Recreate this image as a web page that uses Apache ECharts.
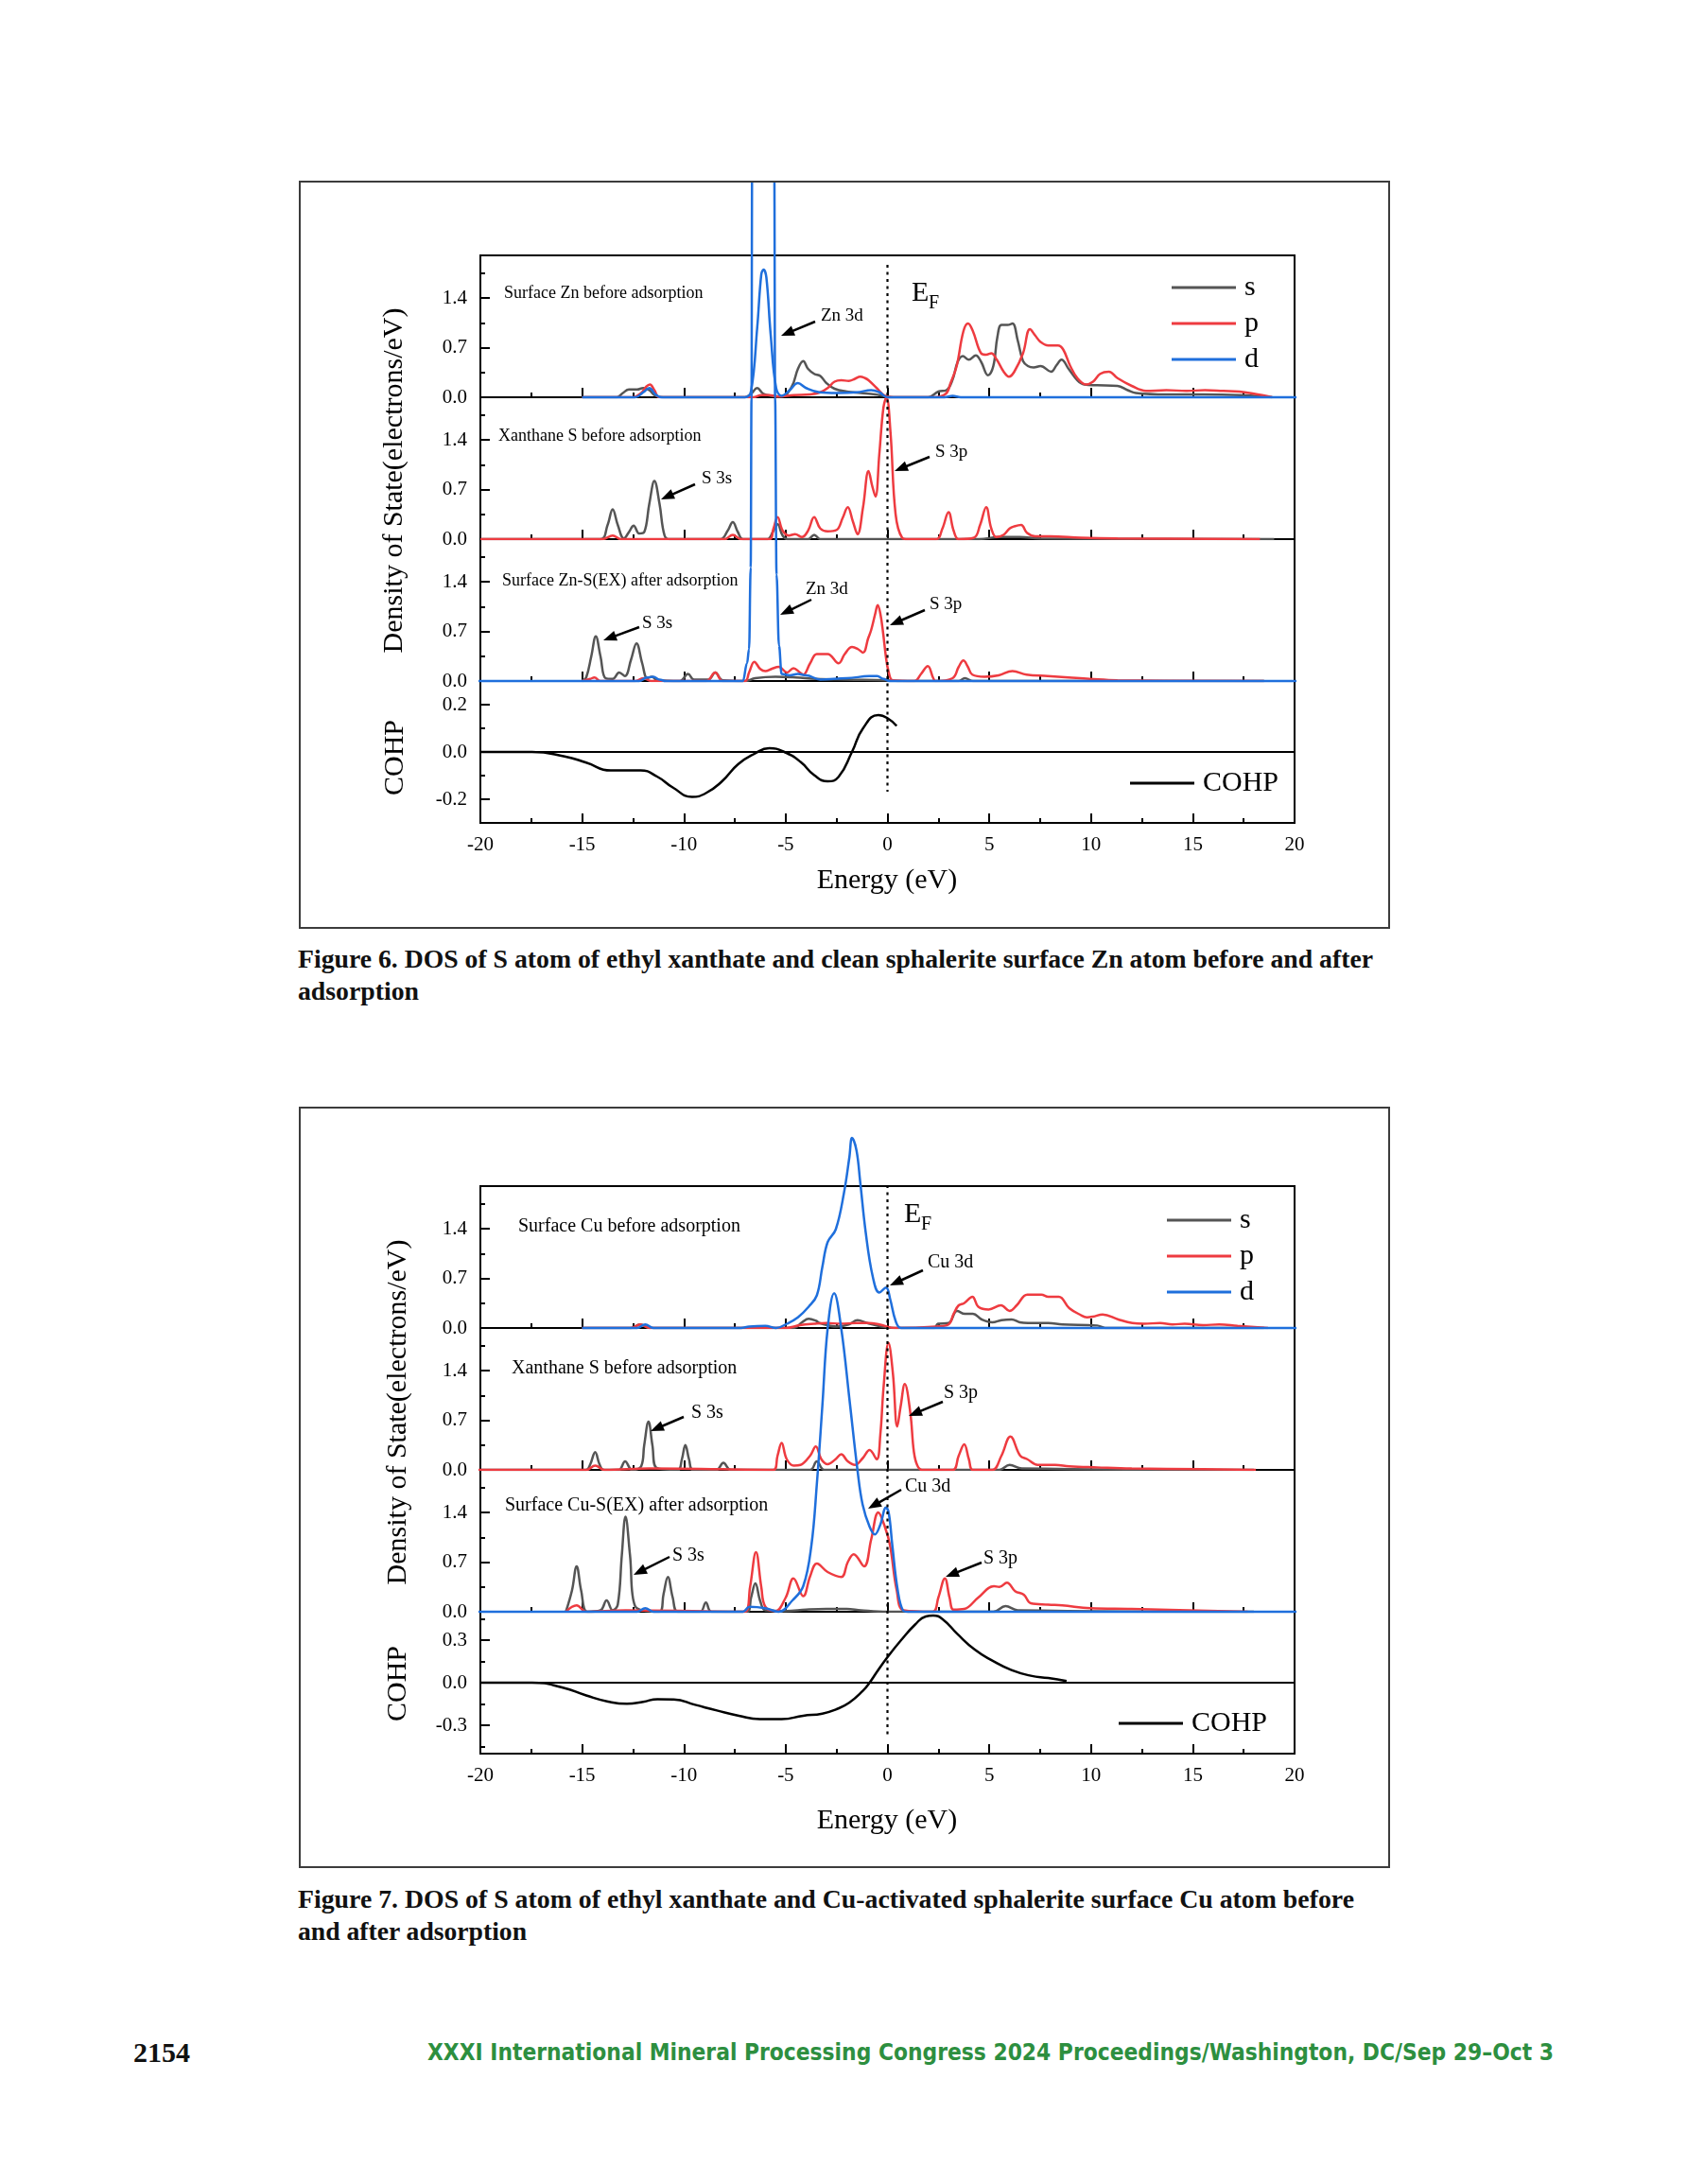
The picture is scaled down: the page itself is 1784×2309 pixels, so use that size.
<!DOCTYPE html>
<html><head><meta charset="utf-8">
<script src="https://cdn.jsdelivr.net/npm/echarts@6/dist/echarts.min.js"></script>
<style>
html,body{margin:0;padding:0;background:#fff;}
body{width:1784px;height:2309px;position:relative;overflow:hidden;}
.chart{position:absolute;}
.frame{position:absolute;box-sizing:border-box;border:2px solid #3c3c3c;pointer-events:none;}
svg.txt{position:absolute;left:0;overflow:visible;}
</style></head>
<body>
<div id="fig6" class="chart" style="left:317px;top:192px;width:1152px;height:789px"></div>
<div class="frame" style="left:316px;top:191px;width:1154px;height:791px"></div>
<div id="fig7" class="chart" style="left:317px;top:1171px;width:1152px;height:803px"></div>
<div class="frame" style="left:316px;top:1170px;width:1154px;height:805px"></div>

<svg class="txt" style="top:990px" width="1784" height="90">
<text x="315" y="33" font-family="Liberation Serif" font-weight="bold" font-size="27" fill="#111" textLength="1137" lengthAdjust="spacingAndGlyphs">Figure 6. DOS of S atom of ethyl xanthate and clean sphalerite surface Zn atom before and after</text>
<text x="315" y="67" font-family="Liberation Serif" font-weight="bold" font-size="27" fill="#111" textLength="128" lengthAdjust="spacingAndGlyphs">adsorption</text>
</svg>
<svg class="txt" style="top:1983px" width="1784" height="90">
<text x="315" y="34" font-family="Liberation Serif" font-weight="bold" font-size="27" fill="#111" textLength="1117" lengthAdjust="spacingAndGlyphs">Figure 7. DOS of S atom of ethyl xanthate and Cu-activated sphalerite surface Cu atom before</text>
<text x="315" y="68" font-family="Liberation Serif" font-weight="bold" font-size="27" fill="#111" textLength="242" lengthAdjust="spacingAndGlyphs">and after adsorption</text>
</svg>
<svg class="txt" style="top:2140px" width="1784" height="60">
<text x="141" y="40" font-family="Liberation Serif" font-weight="bold" font-size="29" fill="#111" textLength="60" lengthAdjust="spacingAndGlyphs">2154</text>
<text x="452" y="38" font-family="'Liberation Sans Narrow', 'DejaVu Sans Condensed', 'Liberation Sans', 'DejaVu Sans', sans-serif" font-weight="bold" font-size="25" fill="#2d8f3f" textLength="1191" lengthAdjust="spacingAndGlyphs">XXXI International Mineral Processing Congress 2024 Proceedings/Washington, DC/Sep 29–Oct 3</text>
</svg>

<script>
// ---------------- DATA (energy eV, value) ----------------
const DOS_MAJOR = [0, 0.7, 1.4];
const DOS_MINOR = [0.35, 1.05, 1.75];
const F6_COHP_MAJOR = [-0.2, 0, 0.2];
const F6_COHP_MINOR = [-0.1, 0.1];
const F7_COHP_MAJOR = [-0.3, 0, 0.3];
const F7_COHP_MINOR = [-0.45, -0.15, 0.15, 0.45];

// Figure 6, panel 1: Surface Zn before adsorption
const f6_1_s = [[-15,0],[-13.3,0],[-13.0,0.06],[-12.7,0.11],[-12.3,0.11],[-12.0,0.13],[-11.7,0.1],[-11.4,0.02],[-11.0,0],[-7.0,0],[-6.7,0.05],[-6.4,0.13],[-6.1,0.05],[-5.7,0.02],[-5.2,0.01],[-4.7,0.15],[-4.4,0.4],[-4.14,0.51],[-3.9,0.4],[-3.6,0.33],[-3.3,0.3],[-3.0,0.2],[-2.6,0.12],[-2.0,0.08],[-1.3,0.06],[-0.6,0.04],[-0.2,0.02],[0.2,0],[2.0,0],[2.5,0.08],[2.9,0.1],[3.2,0.25],[3.45,0.5],[3.7,0.58],[4.0,0.53],[4.34,0.59],[4.6,0.5],[4.94,0.31],[5.2,0.44],[5.4,0.85],[5.6,1.02],[5.9,1.02],[6.14,1.04],[6.4,0.8],[6.66,0.51],[6.9,0.44],[7.18,0.42],[7.52,0.44],[8.04,0.36],[8.3,0.45],[8.55,0.53],[8.9,0.4],[9.33,0.24],[9.67,0.18],[10.3,0.17],[11.3,0.16],[11.8,0.1],[12.2,0.06],[13.7,0.04],[15.5,0.04],[17.3,0.03],[18.9,0]];
const f6_1_p = [[-15,0],[-12.5,0],[-12.1,0.06],[-11.85,0.15],[-11.67,0.18],[-11.45,0.1],[-11.2,0],[-6.6,0],[-6.2,0.03],[-5.8,0.03],[-5.4,0.01],[-4.6,0.03],[-3.8,0.04],[-3.3,0.07],[-2.94,0.13],[-2.6,0.22],[-2.27,0.24],[-1.9,0.23],[-1.6,0.26],[-1.34,0.29],[-1.1,0.27],[-0.93,0.24],[-0.53,0.13],[-0.13,0.02],[0.3,0],[2.3,0],[2.87,0.05],[3.1,0.2],[3.4,0.44],[3.73,0.93],[3.96,1.04],[4.2,0.93],[4.6,0.62],[4.85,0.6],[5.1,0.62],[5.37,0.53],[5.71,0.36],[5.97,0.29],[6.23,0.36],[6.66,0.62],[7.0,0.96],[7.26,0.87],[7.52,0.78],[7.9,0.73],[8.38,0.73],[8.64,0.67],[8.98,0.44],[9.33,0.27],[9.76,0.18],[10.1,0.22],[10.45,0.33],[10.88,0.36],[11.3,0.27],[12.0,0.16],[12.7,0.09],[13.7,0.1],[14.7,0.09],[15.6,0.1],[16.5,0.09],[17.3,0.08],[18.0,0.05],[18.9,0]];
const f6_1_d = [[-15,0],[-12.4,0],[-12.0,0.07],[-11.7,0.13],[-11.4,0.04],[-11.1,0],[-7.0,0],[-6.7,0.09],[-6.4,0.98],[-6.2,1.73],[-6.09,1.8],[-5.95,1.69],[-5.74,0.89],[-5.47,0.13],[-5.2,0.02],[-4.8,0.1],[-4.4,0.2],[-4.0,0.13],[-3.34,0.07],[-2.5,0.06],[-1.5,0.07],[-0.8,0.1],[-0.4,0.07],[0,0],[2.8,0],[3.2,0.02],[3.6,0],[20.8,0]];

// Figure 6, panel 2: Xanthane S before adsorption
const f6_2_s = [[-20,0],[-14.1,0],[-13.75,0.2],[-13.5,0.42],[-13.25,0.2],[-12.95,0.01],[-12.7,0.1],[-12.47,0.19],[-12.2,0.08],[-11.95,0.1],[-11.7,0.5],[-11.45,0.82],[-11.2,0.5],[-10.95,0.05],[-10.7,0],[-8.2,0],[-7.85,0.12],[-7.6,0.24],[-7.35,0.1],[-7.1,0],[-5.9,0],[-5.6,0.12],[-5.4,0.21],[-5.15,0.05],[-4.9,0],[-3.9,0],[-3.6,0.06],[-3.3,0],[4.5,0],[5.5,0.03],[6.5,0.03],[7.5,0.01],[19,0]];
const f6_2_p = [[-20,0],[-14,0],[-13.5,0.05],[-13.1,0],[-8.0,0],[-7.6,0.06],[-7.2,0],[-5.8,0],[-5.6,0.15],[-5.4,0.31],[-5.15,0.12],[-4.85,0.05],[-4.54,0.07],[-4.2,0.03],[-3.9,0.12],[-3.6,0.31],[-3.3,0.15],[-2.94,0.11],[-2.5,0.13],[-2.2,0.3],[-1.95,0.45],[-1.7,0.25],[-1.47,0.07],[-1.2,0.45],[-0.93,0.96],[-0.75,0.75],[-0.59,0.6],[-0.4,1.2],[-0.2,1.85],[-0.05,2.0],[0.15,1.5],[0.4,0.35],[0.72,0.02],[1.0,0],[2.4,0],[2.7,0.15],[3.0,0.38],[3.25,0.12],[3.5,0],[4.25,0.02],[4.55,0.2],[4.85,0.45],[5.1,0.15],[5.35,0.03],[5.7,0.06],[6.0,0.15],[6.23,0.18],[6.57,0.2],[6.85,0.09],[7.26,0.04],[8.0,0.04],[9.5,0.02],[11.3,0.01],[18.3,0]];

// Figure 6, panel 3: Surface Zn-S(EX) after adsorption
const f6_3_s = [[-15,0],[-14.8,0.05],[-14.55,0.35],[-14.33,0.63],[-14.1,0.35],[-13.85,0.04],[-13.5,0.03],[-13.18,0.12],[-12.9,0.07],[-12.6,0.3],[-12.33,0.53],[-12.05,0.25],[-11.8,0.04],[-11.58,0.06],[-11.3,0.01],[-10.2,0],[-9.8,0.1],[-9.5,0.02],[-8.8,0.02],[-8.46,0.12],[-8.1,0.01],[-7,0],[-6.5,0.04],[-5.5,0.06],[-4.5,0.05],[-3.5,0.03],[-2,0.02],[0,0.01],[0.5,0],[3.5,0],[3.8,0.04],[4.2,0],[18.5,0]];
const f6_3_p = [[-15,0],[-14.6,0.03],[-14.4,0.05],[-14.1,0],[-12.4,0],[-12.0,0.04],[-11.6,0],[-8.9,0],[-8.46,0.12],[-8.1,0],[-7.0,0],[-6.8,0.12],[-6.54,0.27],[-6.25,0.17],[-6.0,0.14],[-5.7,0.17],[-5.34,0.2],[-4.94,0.12],[-4.62,0.18],[-4.3,0.12],[-4.14,0.09],[-3.8,0.25],[-3.47,0.38],[-2.94,0.38],[-2.4,0.25],[-2.1,0.38],[-1.74,0.48],[-1.45,0.45],[-1.2,0.4],[-0.95,0.6],[-0.8,0.72],[-0.6,0.95],[-0.48,1.07],[-0.35,0.95],[-0.21,0.67],[-0.08,0.35],[0.05,0.14],[0.27,0.01],[1.33,0],[1.65,0.1],[1.98,0.21],[2.25,0.04],[2.36,0],[3.2,0.04],[3.5,0.2],[3.73,0.29],[3.95,0.2],[4.17,0.09],[4.77,0.06],[5.46,0.08],[6.14,0.14],[6.83,0.09],[7.87,0.07],[8.9,0.05],[9.93,0.03],[11.3,0.01],[18.5,0]];
const f6_3_d = [[-22.3,0],[-12.2,0],[-11.8,0.05],[-11.5,0.06],[-11.2,0.02],[-10.9,0],[-7.1,0],[-6.9,0.25],[-6.8,0.45],[-6.72,1.6],[-6.68,4.0],[-6.65,7.2],[-6.5,9.5],[-6.1,10],[-5.7,9.5],[-5.56,7.2],[-5.52,4.0],[-5.45,1.5],[-5.33,0.5],[-5.2,0.1],[-4.8,0.08],[-4.4,0.1],[-4.0,0.08],[-3.3,0.02],[-2.0,0.04],[-0.9,0.07],[-0.5,0.07],[-0.2,0.03],[0.1,0],[20.6,0]];

// Figure 6, COHP
const f6_cohp = [[-20,0],[-17.46,0],[-15.86,-0.019],[-14.8,-0.045],[-13.6,-0.078],[-12.13,-0.078],[-11.3,-0.105],[-10.55,-0.15],[-9.6,-0.19],[-8.94,-0.175],[-8.14,-0.125],[-7.34,-0.052],[-6.54,-0.008],[-5.8,0.016],[-5.07,0.0],[-4.27,-0.042],[-3.6,-0.098],[-2.94,-0.124],[-2.4,-0.105],[-1.74,0.001],[-1.2,0.1],[-0.45,0.156],[0,0.143],[0.45,0.11]];

// Figure 7, panel 1: Surface Cu before adsorption
const f7_1_s = [[-15,0],[-12.6,0],[-12.15,0.05],[-11.7,0],[-4.6,0],[-4.2,0.08],[-3.87,0.13],[-3.5,0.1],[-3.34,0.07],[-2.5,0.02],[-1.9,0.05],[-1.47,0.11],[-1.0,0.07],[-0.3,0.02],[0.3,0],[2.3,0],[2.48,0.06],[3.0,0.07],[3.42,0.24],[3.8,0.2],[4.2,0.2],[4.63,0.12],[5.15,0.08],[5.6,0.11],[6.1,0.12],[6.5,0.08],[6.9,0.07],[7.9,0.07],[8.6,0.05],[10.3,0.035],[10.7,0],[18.5,0]];
const f7_1_p = [[-15,0],[-12.6,0],[-12.15,0.05],[-11.7,0],[-5.0,0],[-4.3,0.04],[-3.6,0.06],[-3.0,0.07],[-2.3,0.06],[-1.5,0.07],[-0.93,0.07],[-0.4,0.05],[0.4,0],[2.39,0.02],[3.0,0.05],[3.25,0.2],[3.5,0.32],[3.77,0.35],[4.17,0.44],[4.46,0.3],[4.97,0.26],[5.58,0.32],[6.0,0.24],[6.35,0.32],[6.87,0.47],[7.56,0.47],[7.9,0.44],[8.42,0.44],[8.93,0.28],[9.45,0.19],[9.8,0.15],[10.1,0.16],[10.57,0.19],[11.34,0.12],[12.03,0.07],[12.6,0.06],[13.4,0.07],[14.0,0.05],[14.6,0.06],[15.5,0.04],[16.3,0.05],[17.2,0.03],[18.7,0]];
const f7_1_d = [[-15,0],[-12.3,0],[-11.9,0.05],[-11.5,0],[-7.2,0],[-6.8,0.02],[-6.0,0.03],[-5.47,0],[-4.94,0.06],[-4.4,0.15],[-3.87,0.3],[-3.47,0.46],[-3.2,0.86],[-2.94,1.21],[-2.54,1.39],[-2.14,1.9],[-1.87,2.41],[-1.74,2.68],[-1.52,2.5],[-1.34,2.06],[-1.07,1.35],[-0.72,0.72],[-0.4,0.5],[-0.07,0.57],[0.13,0.41],[0.4,0.1],[0.67,0],[20.6,0]];

// Figure 7, panel 2: Xanthane S before adsorption
const f7_2_s = [[-20,0],[-14.8,0],[-14.6,0.08],[-14.36,0.25],[-14.15,0.08],[-13.95,0],[-13.2,0],[-12.89,0.12],[-12.55,0],[-12.1,0.05],[-11.95,0.35],[-11.74,0.68],[-11.55,0.35],[-11.35,0.03],[-10.3,0],[-10.1,0.15],[-9.93,0.35],[-9.75,0.15],[-9.55,0],[-8.4,0],[-8.06,0.1],[-7.7,0],[-3.8,0],[-3.47,0.12],[-3.1,0],[5.5,0],[6.0,0.07],[6.6,0.02],[18,0]];
const f7_2_p = [[-21,0],[-14.8,0],[-14.36,0.06],[-13.9,0],[-11.7,0.02],[-5.6,0],[-5.4,0.2],[-5.2,0.38],[-4.95,0.15],[-4.6,0.06],[-4.27,0.07],[-3.8,0.2],[-3.52,0.33],[-3.25,0.15],[-2.94,0.08],[-2.55,0.15],[-2.27,0.22],[-1.95,0.12],[-1.6,0.07],[-1.2,0.17],[-0.88,0.28],[-0.53,0.15],[-0.35,0.5],[-0.19,1.17],[0.05,1.79],[0.27,1.35],[0.48,0.61],[0.65,0.9],[0.85,1.21],[1.12,0.81],[1.3,0.25],[1.47,0.06],[1.7,0],[3.2,0],[3.5,0.2],[3.77,0.36],[4.0,0.15],[4.2,0],[5.15,0],[5.6,0.2],[6.04,0.47],[6.52,0.2],[6.87,0.15],[7.38,0.07],[8.24,0.07],[8.93,0.05],[10.3,0.035],[12,0.02],[15.5,0.01],[18.1,0]];

// Figure 7, panel 3: Surface Cu-S(EX) after adsorption
const f7_3_s = [[-15.8,0],[-15.5,0.3],[-15.27,0.64],[-15.05,0.3],[-14.75,0],[-14.1,0.02],[-13.8,0.16],[-13.5,0.02],[-13.25,0.1],[-13.05,0.8],[-12.87,1.34],[-12.65,0.8],[-12.4,0.08],[-11.2,0],[-11.0,0.25],[-10.79,0.49],[-10.55,0.2],[-10.3,0],[-9.2,0],[-8.92,0.13],[-8.65,0],[-6.9,0],[-6.7,0.2],[-6.49,0.4],[-6.25,0.15],[-6.0,0.02],[-5,0.01],[-4.0,0.03],[-3.0,0.04],[-2.0,0.04],[-1.3,0.02],[0,0],[5.2,0],[5.8,0.08],[6.4,0.02],[18,0]];
const f7_3_p = [[-15.8,0],[-15.27,0.09],[-14.8,0],[-12.87,0.02],[-7.0,0],[-6.75,0.35],[-6.46,0.84],[-6.2,0.35],[-6.0,0.07],[-5.5,0.01],[-5.0,0.2],[-4.62,0.47],[-4.14,0.22],[-3.8,0.5],[-3.47,0.68],[-2.94,0.56],[-2.27,0.49],[-1.95,0.7],[-1.66,0.81],[-1.15,0.64],[-0.8,1.02],[-0.45,1.4],[-0.13,1.2],[0.13,0.93],[0.45,0.31],[0.8,0.02],[2.22,0],[2.5,0.2],[2.82,0.47],[3.05,0.2],[3.25,0.03],[3.77,0.04],[4.46,0.2],[5.23,0.36],[5.5,0.35],[5.87,0.41],[6.27,0.29],[6.7,0.24],[7.04,0.12],[7.9,0.1],[8.59,0.09],[9.97,0.05],[12.0,0.04],[17.7,0]];
const f7_3_d = [[-24.4,0],[-12.3,0],[-11.9,0.05],[-11.5,0],[-7.1,0],[-6.78,0.07],[-6.0,0.05],[-5.34,0],[-4.67,0.16],[-4.14,0.36],[-3.74,0.93],[-3.47,1.8],[-3.2,2.9],[-2.94,3.99],[-2.62,4.49],[-2.27,3.99],[-1.87,3.0],[-1.47,1.99],[-1.22,1.51],[-0.88,1.2],[-0.62,1.09],[-0.36,1.22],[-0.07,1.47],[0.07,1.38],[0.24,0.93],[0.5,0.31],[0.76,0.02],[1.0,0],[20.5,0]];

// Figure 7, COHP
const f7_cohp = [[-20,0],[-17.46,0],[-15.99,-0.033],[-14.8,-0.09],[-13.73,-0.133],[-12.8,-0.149],[-12.0,-0.135],[-11.3,-0.116],[-10.5,-0.118],[-9.45,-0.156],[-8.38,-0.196],[-7.3,-0.233],[-6.27,-0.256],[-5.2,-0.256],[-4.14,-0.233],[-3.2,-0.218],[-2.54,-0.189],[-1.87,-0.14],[-1.2,-0.056],[-0.88,0],[-0.5,0.08],[0,0.18],[0.67,0.3],[1.36,0.41],[1.88,0.467],[2.25,0.473],[2.74,0.444],[3.43,0.344],[4.29,0.233],[5.15,0.156],[6.09,0.089],[7.04,0.049],[7.9,0.033],[8.8,0.011]];

// ---------------- STYLE / BUILD ----------------
const COL = {s:'#555555', p:'#ee3b40', d:'#1f6fdc', c:'#000000'};
const SERIF = '"Liberation Serif", "Times New Roman", serif';

function xAxisDef(gi, showLabels){
  return {type:'value', gridIndex:gi, min:-20, max:20, interval:5,
    axisLine:{show:true, onZero:false, lineStyle:{color:'#000', width:2}},
    axisTick:{show:true, inside:true, length:10, lineStyle:{color:'#000', width:2}},
    minorTick:{show:true, splitNumber:2, length:5, lineStyle:{color:'#000', width:2}},
    splitLine:{show:false}, minorSplitLine:{show:false},
    axisLabel:{show:showLabels, margin:13, color:'#000', fontFamily:SERIF, fontSize:21, formatter:v=>String(v)}
  };
}
function yMajor(gi, min, max, vals){
  return {type:'value', gridIndex:gi, min, max, position:'left',
    axisLine:{show:true, onZero:false, lineStyle:{color:'#000', width:2}},
    axisTick:{show:true, inside:true, length:10, customValues:vals, lineStyle:{color:'#000', width:2}},
    axisLabel:{show:true, customValues:vals, margin:14, color:'#000', fontFamily:SERIF, fontSize:21, formatter:v=>Number(v).toFixed(1)},
    splitLine:{show:false}};
}
function yMinor(gi, min, max, vals){
  return {type:'value', gridIndex:gi, min, max, position:'left',
    axisLine:{show:false, onZero:false},
    axisTick:{show:true, inside:true, length:5, customValues:vals, lineStyle:{color:'#000', width:2}},
    axisLabel:{show:false}, splitLine:{show:false}};
}
function lineSeries(name, data, gi, steep){
  const s = {type:'line', name, data, xAxisIndex:gi, yAxisIndex:2*gi, symbol:'none', showSymbol:false,
    smooth:0.4, clip:name!=='d', color:COL[name], silent:true,
    lineStyle:{color:COL[name], width:2.5}, z: name==='d'?4:(name==='p'?3:2)};
  if (steep) s.smoothMonotone = 'x';
  return s;
}
function txt(x,y,s,size,extra){
  return Object.assign({type:'text', x, y, silent:true, z:100,
    style:{text:s, fill:'#000', font:size+'px '+SERIF, align:'left', verticalAlign:'middle'}}, extra||{});
}
function ctxt(x,y,s,size,rot){
  return {type:'text', x, y, rotation:rot||0, silent:true, z:100,
    style:{text:s, fill:'#000', font:size+'px '+SERIF, align:'center', verticalAlign:'middle'}};
}
function arrow(x1,y1,x2,y2){
  const a=Math.atan2(y2-y1,x2-x1), L=14, W=5.5;
  const bx=x2-L*Math.cos(a), by=y2-L*Math.sin(a), px=-Math.sin(a), py=Math.cos(a);
  return [
    {type:'line', silent:true, z:100, shape:{x1,y1,x2:bx+Math.cos(a)*2,y2:by+Math.sin(a)*2}, style:{stroke:'#000', lineWidth:2.5}},
    {type:'polygon', silent:true, z:100, shape:{points:[[x2,y2],[bx+px*W,by+py*W],[bx-px*W,by-py*W]]}, style:{fill:'#000'}}
  ];
}

function buildFigure(el, fig){
  const chart = echarts.init(el, null, {renderer:'canvas'});
  const grids=[], xAxes=[], yAxes=[], series=[];
  fig.tops.forEach((top,i)=>{
    grids.push({left:fig.left, top, width:fig.width, height:fig.height, show:true, borderColor:'#000', borderWidth:2, backgroundColor:'transparent'});
    xAxes.push(xAxisDef(i, i===3));
  });
  for (let i=0;i<3;i++){ yAxes.push(yMajor(i,0,2,DOS_MAJOR)); yAxes.push(yMinor(i,0,2,DOS_MINOR)); }
  yAxes.push(yMajor(3, fig.cohpMin, fig.cohpMax, fig.cohpMajor));
  yAxes.push(yMinor(3, fig.cohpMin, fig.cohpMax, fig.cohpMinor));
  fig.panels.forEach((pan,i)=>{
    ['s','p','d'].forEach(k=>{ if(pan[k]) series.push(lineSeries(k, pan[k], i, pan.steep===k)); });
  });
  series.push({type:'line', name:'COHP', data:fig.cohp, xAxisIndex:3, yAxisIndex:6, symbol:'none', showSymbol:false,
    smooth:0.5, color:'#000', silent:true, lineStyle:{color:'#000', width:2.5}, z:5,
    markLine:{silent:true, symbol:['none','none'], label:{show:false}, animation:false,
      lineStyle:{color:'#000', width:2, type:'solid'}, emphasis:{disabled:true}, data:[{yAxis:0}]}});
  const legendText = {fontFamily:SERIF, fontSize:30, color:'#000', padding:[0,0,0,4]};
  chart.setOption({
    animation:false, backgroundColor:'transparent',
    grid:grids, xAxis:xAxes, yAxis:yAxes, series,
    legend:[
      {data:['s','p','d'], orient:'vertical', left:fig.leg[0], top:fig.leg[1], itemWidth:68, itemHeight:3, icon:'rect', itemGap:fig.leg[2], selectedMode:false, textStyle:legendText},
      {data:['COHP'], orient:'vertical', left:fig.cleg[0], top:fig.cleg[1], itemWidth:68, itemHeight:3, icon:'rect', selectedMode:false, textStyle:legendText}
    ]
  });
  const x0 = chart.convertToPixel({gridIndex:0}, [0,0])[0];
  let g = [];
  g.push({type:'line', silent:true, z:90, shape:{x1:x0, y1:fig.ef[0], x2:x0, y2:fig.ef[1]}, style:{stroke:'#000', lineWidth:2.2, lineDash:[3,4.5]}});
  g.push(ctxt(fig.yname[0], fig.yname[1], 'Density of State(electrons/eV)', 30, Math.PI/2));
  g.push(ctxt(fig.cname[0], fig.cname[1], 'COHP', 30, Math.PI/2));
  g.push(ctxt(fig.xname[0], fig.xname[1], 'Energy (eV)', 30, 0));
  g.push(txt(fig.efPos[0], fig.efPos[1], 'E', 30));
  g.push(txt(fig.efPos[0]+18, fig.efPos[1]+11, 'F', 20));
  fig.titles.forEach(t=>g.push(txt(t[0], t[1], t[2], fig.titleSize)));
  fig.notes.forEach(n=>{ g.push(txt(n[0], n[1], n[2], fig.noteSize)); g = g.concat(arrow(n[3],n[4],n[5],n[6])); });
  chart.setOption({graphic:{elements:g}});
}

buildFigure(document.getElementById('fig6'), {
  left:191, width:861, height:150, tops:[78,228,378,528],
  panels:[{s:f6_1_s,p:f6_1_p,d:f6_1_d},{s:f6_2_s,p:f6_2_p},{s:f6_3_s,p:f6_3_p,d:f6_3_d,steep:'d'}],
  cohp:f6_cohp, cohpMin:-0.3, cohpMax:0.3, cohpMajor:F6_COHP_MAJOR, cohpMinor:F6_COHP_MINOR,
  leg:[917,92,8], cleg:[873,616],
  ef:[88,645], yname:[100,316], cname:[101,609], xname:[621,739], efPos:[647,118],
  titleSize:18, noteSize:19,
  titles:[[216,118,'Surface Zn before adsorption'],[210,269,'Xanthane S before adsorption'],[214,422,'Surface Zn-S(EX) after adsorption']],
  notes:[[551,142,'Zn 3d',545,148,509,163],[425,314,'S 3s',418,320,382,336],[672,286,'S 3p',666,291,629,306],
         [535,431,'Zn 3d',541,442,508,458],[362,467,'S 3s',359,471,321,485],[666,447,'S 3p',661,453,624,469]]
});
buildFigure(document.getElementById('fig7'), {
  left:191, width:861, height:150, tops:[83,233,383,533],
  panels:[{s:f7_1_s,p:f7_1_p,d:f7_1_d},{s:f7_2_s,p:f7_2_p},{s:f7_3_s,p:f7_3_p,d:f7_3_d}],
  cohp:f7_cohp, cohpMin:-0.5, cohpMax:0.5, cohpMajor:F7_COHP_MAJOR, cohpMinor:F7_COHP_MINOR,
  leg:[912,99,8], cleg:[861,631],
  ef:[82,664], yname:[104,322], cname:[104,609], xname:[621,754], efPos:[639,113],
  titleSize:20, noteSize:20,
  titles:[[231,126,'Surface Cu before adsorption'],[224,276,'Xanthane S before adsorption'],[217,421,'Surface Cu-S(EX) after adsorption']],
  notes:[[664,164,'Cu 3d',659,172,624,188],[414,323,'S 3s',406,327,371,342],[681,302,'S 3p',680,311,644,326],
         [640,401,'Cu 3d',636,404,601,424],[394,474,'S 3s',391,475,353,494],[723,477,'S 3p',721,481,683,496]]
});
</script>
</body></html>
